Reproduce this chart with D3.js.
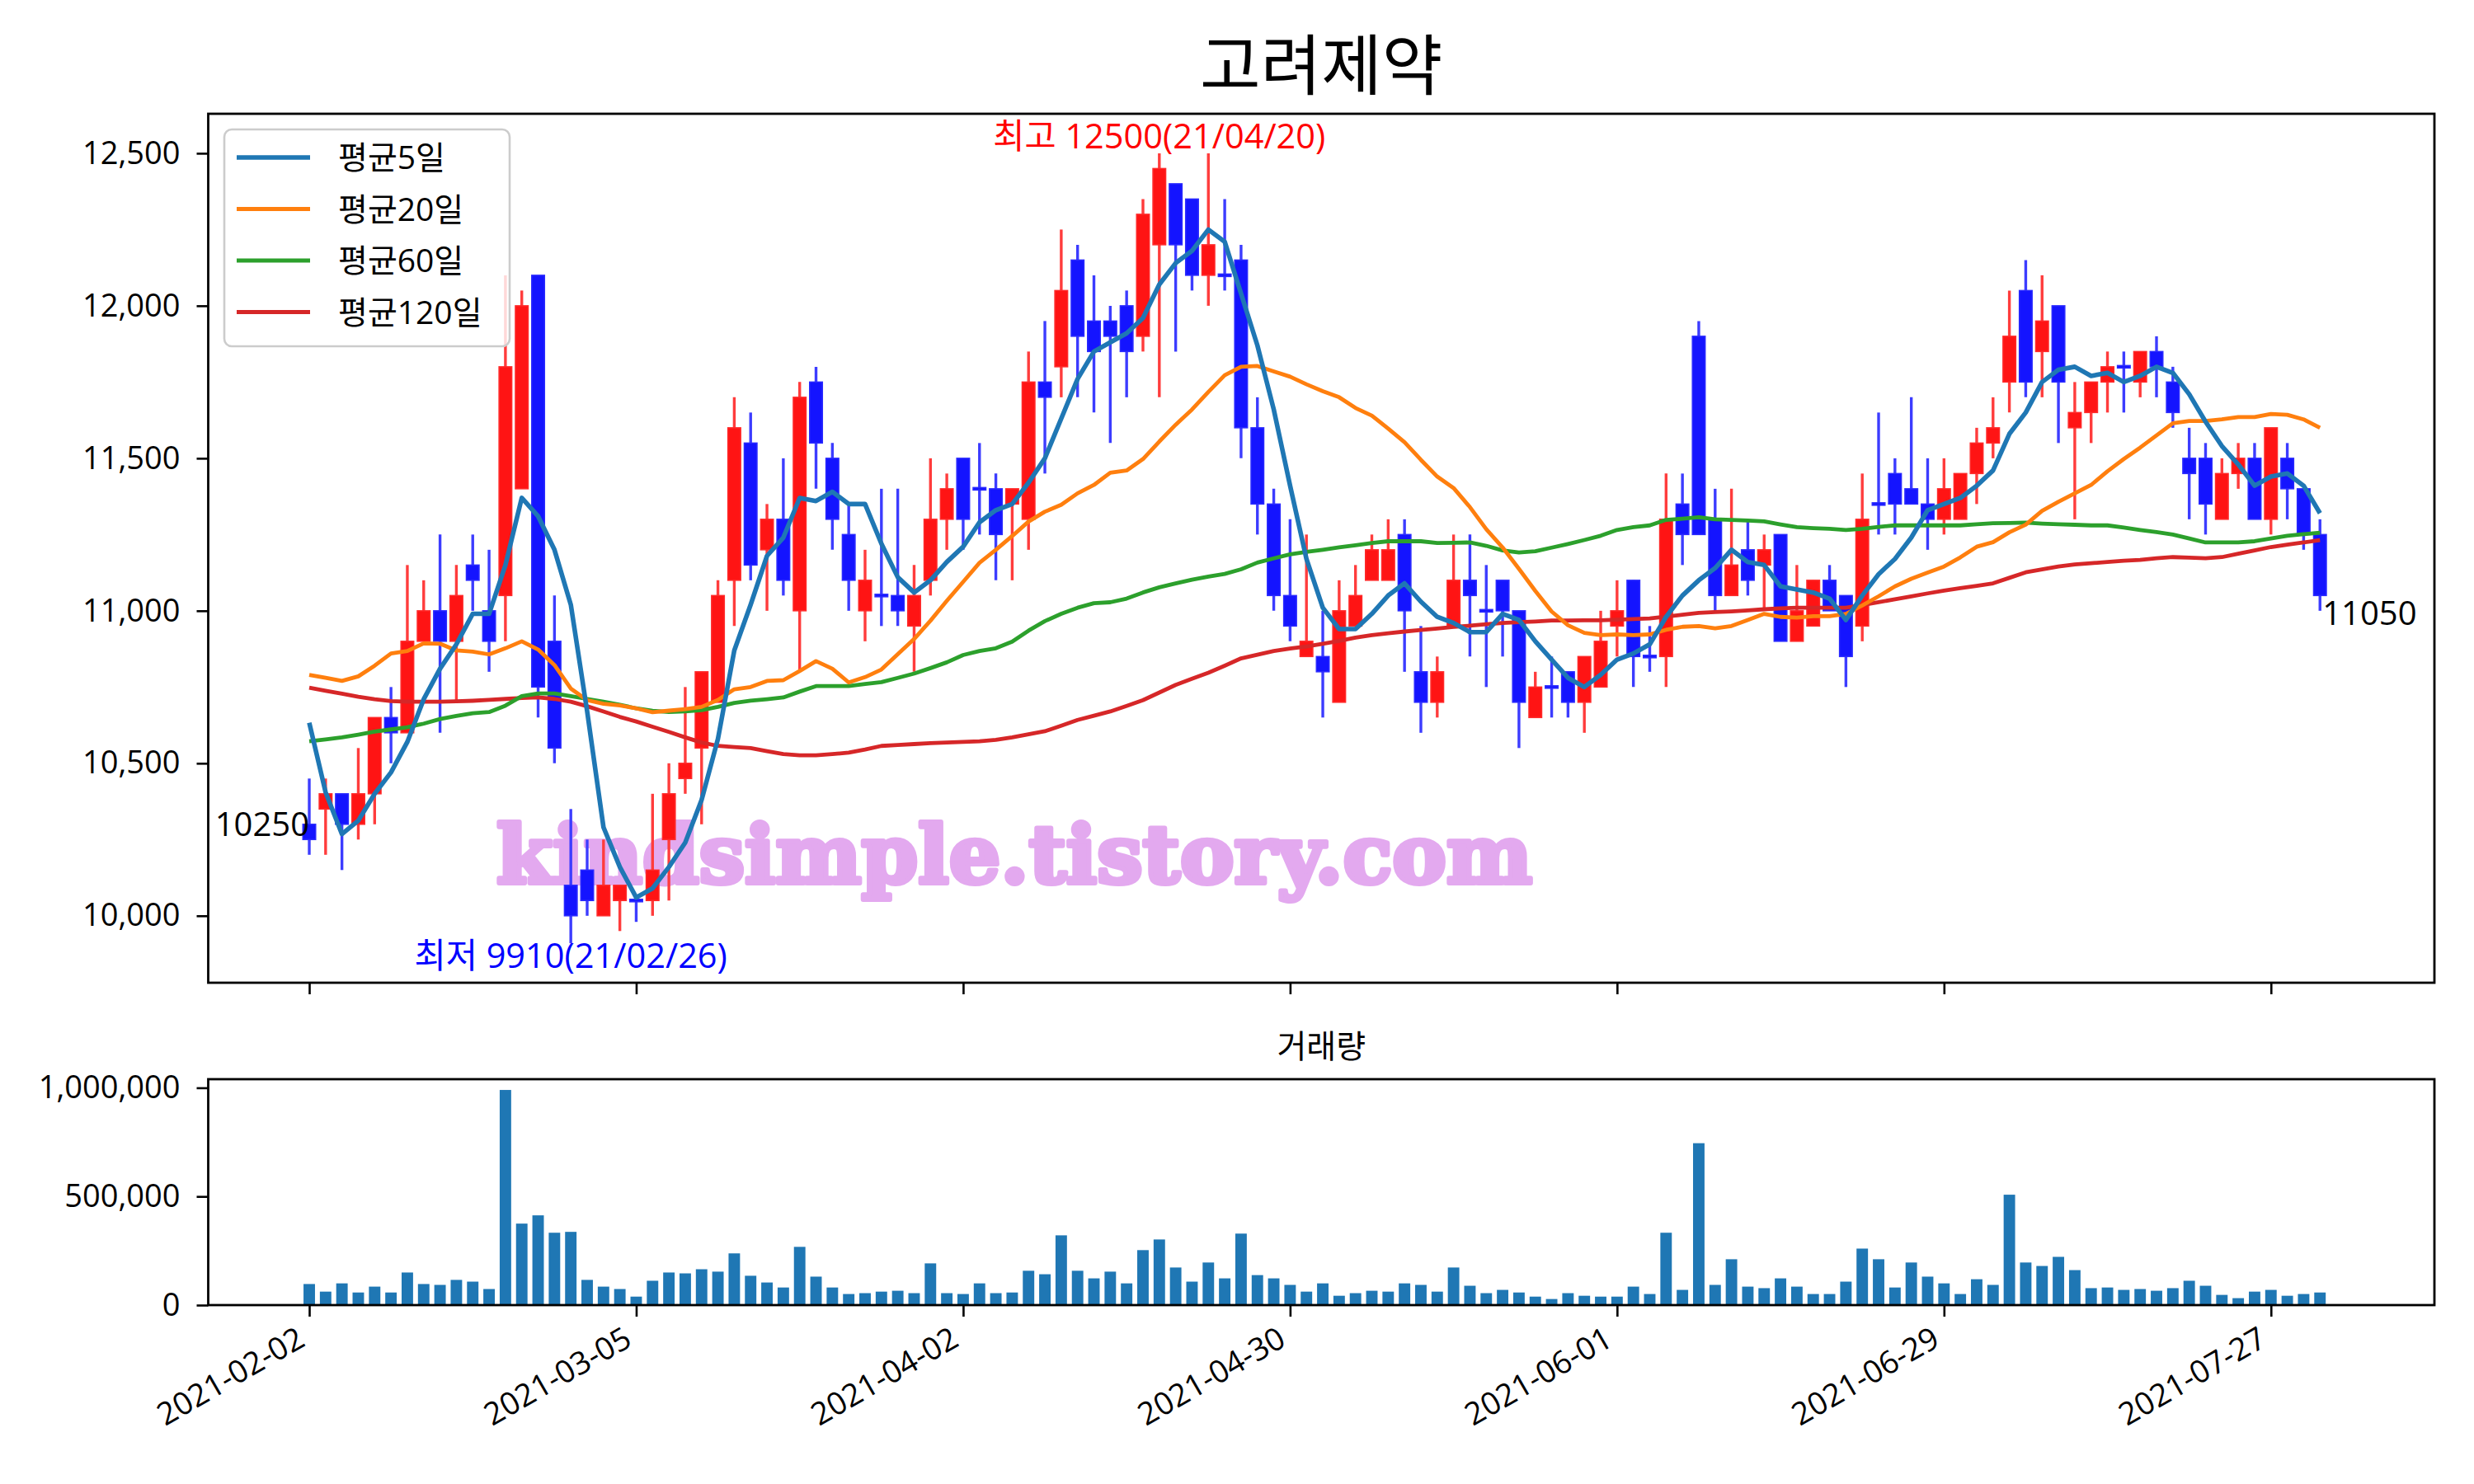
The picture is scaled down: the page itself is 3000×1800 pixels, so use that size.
<!DOCTYPE html>
<html><head><meta charset="utf-8">
<script src="https://cdn.jsdelivr.net/npm/d3@7"></script>
<style>
html,body{margin:0;padding:0;background:#fff;}
svg{display:block;}
</style></head><body>
<svg id="chart" width="3000" height="1800"></svg>
<script>
const chartTitle = "고려제약";
const volumeTitle = "거래량";
const watermark = "kindsimple.tistory.com";
const tickIndex = [0,20,40,60,80,100,120];
const tickLabels = ["2021-02-02","2021-03-05","2021-04-02","2021-04-30","2021-06-01","2021-06-29","2021-07-27"];
const priceTicks = [10000,10500,11000,11500,12000,12500];
const volumeTicks = [0,500000,1000000];
const highNote = "최고 12500(21/04/20)";
const lowNote = "최저 9910(21/02/26)";
const firstCloseLabel = "10250";
const lastCloseLabel = "11050";
const maNames = ["평균5일","평균20일","평균60일","평균120일"];
const maColors = ["#1f77b4","#ff7f0e","#2ca02c","#d62728"];

const opens = [10300,10350,10400,10300,10400,10650,10600,10900,11000,10900,
11150,11000,11050,11400,12100,10900,10100,10150,10000,10050,
10050,10050,10250,10450,10550,10700,11100,11550,11200,11300,
11000,11750,11500,11250,11000,11050,11050,10950,11100,11300,
11500,11400,11400,11350,11300,11750,11800,12150,11950,11950,
12000,11900,12200,12400,12350,12100,12100,12150,11600,11350,
11050,10850,10850,10700,10950,11100,11100,11250,10800,10700,
10950,11100,11000,11100,11000,10650,10750,10800,10700,10750,
10950,11100,10850,10850,11350,11900,11300,11050,11200,11150,
11250,10900,10950,11100,11050,10950,11350,11450,11400,11350,
11300,11300,11450,11550,11750,12050,11850,12000,11600,11650,
11750,11800,11750,11850,11750,11500,11500,11300,11450,11500,
11300,11500,11400,11250];
const highs = [10450,10450,10400,10550,10650,10750,11150,11100,11250,11150,
11250,11200,12100,12050,12100,11050,10350,10250,10250,10100,
10050,10400,10500,10750,10800,11100,11700,11650,11350,11500,
11750,11800,11550,11350,11200,11400,11400,11150,11500,11450,
11500,11550,11450,11400,11850,11950,12250,12200,12100,12000,
12050,12350,12500,12400,12350,12500,12350,12200,11700,11400,
11300,11250,11000,11100,11150,11250,11300,11300,10950,10850,
11250,11250,11150,11100,11000,10800,10850,10800,10850,11000,
11100,11100,10950,11450,11450,11950,11400,11400,11300,11250,
11250,11150,11100,11150,11050,11450,11650,11500,11700,11500,
11500,11450,11600,11700,12050,12150,12100,12000,11750,11750,
11850,11850,11850,11900,11800,11600,11550,11500,11550,11550,
11600,11550,11400,11300];
const lows = [10200,10200,10150,10250,10300,10500,10600,10900,10600,10700,
11000,10800,10900,11400,10650,10500,9910,10000,10000,9950,
9980,10000,10050,10400,10300,10700,10950,11100,11000,11050,
10800,11400,11200,11000,10900,10950,10950,10800,11050,11200,
11200,11250,11100,11100,11200,11450,11700,11700,11650,11550,
11700,11850,11700,11850,12050,12000,12050,11500,11250,11000,
10900,10850,10650,10700,10950,11100,11100,10800,10600,10650,
10950,10850,10750,10850,10550,10650,10650,10650,10600,10750,
10850,10750,10800,10750,11150,11250,11000,11050,11050,11000,
10900,10900,10950,11000,10750,10900,11250,11250,11350,11200,
11250,11300,11350,11500,11650,11700,11700,11550,11300,11550,
11650,11650,11700,11700,11600,11300,11250,11300,11400,11300,
11250,11300,11200,11000];
const closes = [10250,10400,10300,10400,10650,10600,10900,11000,10900,11050,
11100,10900,11800,12000,10750,10550,10000,10050,10100,10100,
10050,10150,10400,10500,10800,11050,11600,11150,11300,11100,
11700,11550,11300,11100,11100,11050,11000,11050,11300,11400,
11300,11400,11250,11400,11750,11700,12050,11900,11850,11900,
11850,12300,12450,12200,12100,12200,12100,11600,11350,11050,
10950,10900,10800,11000,11050,11200,11200,11000,10700,10800,
11100,11050,11000,11000,10700,10750,10750,10700,10850,10900,
11000,10850,10850,11300,11250,11250,11050,11150,11100,11200,
10900,11000,11100,11000,10850,11300,11350,11350,11350,11300,
11400,11450,11550,11600,11900,11750,11950,11750,11650,11750,
11800,11800,11850,11800,11650,11450,11350,11450,11500,11300,
11600,11400,11250,11050];
const volumes = [97000,62000,100000,58000,85000,58000,150000,97000,93000,116000,
108000,74000,990000,375000,413000,333000,337000,116000,85000,74000,
39000,112000,150000,146000,165000,154000,238000,135000,104000,81000,
268000,131000,81000,51000,55000,62000,66000,55000,192000,55000,
51000,100000,55000,58000,158000,142000,321000,158000,123000,154000,
100000,253000,302000,173000,108000,196000,123000,329000,138000,123000,
93000,62000,100000,43000,55000,66000,62000,100000,93000,62000,
173000,89000,55000,70000,58000,39000,28000,55000,43000,39000,
39000,85000,51000,333000,70000,745000,93000,211000,85000,78000,
123000,85000,51000,51000,108000,260000,211000,81000,196000,131000,
100000,51000,119000,93000,508000,196000,180000,222000,161000,78000,
81000,70000,74000,66000,78000,112000,89000,47000,32000,62000,
70000,43000,51000,58000];
const ma5 = [10633,10405,10268,10312,10400,10470,10570,10710,10810,10890,
10990,10990,11150,11370,11310,11200,11020,10670,10290,10160,
10060,10090,10160,10240,10380,10580,10870,11020,11180,11240,
11370,11360,11390,11350,11350,11220,11110,11060,11100,11160,
11210,11290,11330,11350,11420,11500,11630,11760,11850,11880,
11910,11960,12070,12140,12180,12250,12210,12040,11870,11660,
11410,11170,11010,10940,10940,10990,11050,11090,11030,10980,
10960,10930,10930,10990,10970,10900,10840,10780,10750,10790,
10840,10860,10890,10980,11050,11100,11140,11200,11160,11150,
11080,11070,11060,11040,10970,11050,11120,11170,11240,11330,
11350,11370,11410,11460,11580,11650,11750,11790,11800,11770,
11780,11750,11770,11800,11780,11710,11620,11540,11480,11410,
11440,11450,11410,11320];
const ma20 = [10790,10780,10770,10785,10820,10860,10868,10893,10892,10870,
10866,10857,10877,10900,10873,10822,10745,10707,10695,10690,
10680,10667.5,10672.5,10677.5,10685,10707.5,10742.5,10750,10770,10772.5,
10802.5,10835,10810,10765,10782.5,10807.5,10857.5,10907.5,10967.5,11032.5,
11095,11157.5,11200,11245,11292.5,11325,11347.5,11385,11412.5,11452.5,
11460,11497.5,11555,11610,11660,11717.5,11772.5,11800,11802.5,11785,
11767.5,11742.5,11720,11700,11665,11640,11597.5,11552.5,11495,11440,
11402.5,11340,11267.5,11207.5,11137.5,11065,10997.5,10952.5,10927.5,10920,
10922.5,10920,10922.5,10937.5,10947.5,10950,10942.5,10950,10970,10990,
10980,10977.5,10982.5,10982.5,10990,11017.5,11047.5,11080,11105,11125,
11145,11175,11210,11225,11257.5,11282.5,11327.5,11357.5,11385,11412.5,
11457.5,11497.5,11535,11575,11615,11622.5,11622.5,11627.5,11635,11635,
11645,11642.5,11627.5,11600];
const ma60 = [10572,10578,10585,10594,10604,10611,10618,10630,10645,10655,
10664,10668,10689,10720,10729,10729,10720,10711,10702,10692,
10680,10672,10668,10670,10674,10685,10698,10705,10710,10716,
10735,10753,10753,10753,10760,10766,10780,10794,10812,10831,
10855,10868,10877,10899,10935,10966,10990,11010,11025,11028,
11040,11060,11077,11090,11102,11112,11121,11136,11158,11172,
11185,11193,11200,11208,11215,11222,11228,11228,11228,11222,
11223,11224,11213,11198,11191,11195,11207,11219,11232,11246,
11265,11274,11280,11298,11302,11307,11300,11298,11296,11293,
11283,11274,11271,11269,11265,11269,11275,11280,11280,11280,
11280,11280,11284,11287,11288,11289,11286,11284,11282,11280,
11280,11273,11265,11258,11250,11237,11224,11224,11224,11228,
11237,11246,11251,11256];
const ma120 = [10748,10738,10728,10718,10710,10704,10702,10702,10702,10703,
10705,10708,10711,10714,10716,10711,10702,10687,10670,10652,
10637,10620,10603,10585,10568,10557,10553,10550,10540,10530,
10526,10526,10530,10535,10545,10557,10560,10563,10566,10568,
10570,10572,10577,10585,10595,10605,10623,10642,10656,10670,
10688,10707,10732,10757,10777,10797,10820,10844,10856,10868,
10876,10883,10892,10901,10912,10920,10926,10932,10937,10942,
10947,10951,10956,10960,10963,10965,10968,10968,10969,10969,
10971,10973,10975,10981,10987,10993,10996,10998,11001,11005,
11008,11010,11010,11010,11010,11019,11028,11038,11047,11057,
11066,11074,11082,11090,11108,11126,11136,11145,11152,11156,
11160,11164,11167,11172,11176,11174,11172,11176,11187,11198,
11209,11217,11224,11232];

// ---------- layout ----------
const FONT = "'Open Sans','Noto Sans CJK KR',sans-serif";
const main = {l:252.5, r:2952, t:138, b:1192};
const vol = {l:252.5, r:2952, t:1309, b:1583};
const n = closes.length;
const svg = d3.select("#chart");
svg.append("rect").attr("width",3000).attr("height",1800).attr("fill","#fff");

const x = d3.scaleLinear().domain([-6.18, 130]).range([main.l, main.r]);
const lo = d3.min(lows), hi = d3.max(highs), pad = (hi-lo)*0.05;
const y = d3.scaleLinear().domain([lo-pad, hi+pad]).range([main.b, main.t]);
const yv = d3.scaleLinear().domain([0, d3.max(volumes)*1.05]).range([vol.b, vol.t]);
const idx = d3.range(n);

// title
svg.append("text").attr("x",(main.l+main.r)/2).attr("y",108).attr("text-anchor","middle")
  .style("font-family",FONT).style("font-size","80px").attr("fill","#000").text(chartTitle);

// clip
const defs = svg.append("defs");
defs.append("clipPath").attr("id","clipMain").append("rect")
  .attr("x",main.l).attr("y",main.t).attr("width",main.r-main.l).attr("height",main.b-main.t);
const plot = svg.append("g").attr("clip-path","url(#clipMain)");

// watermark
plot.append("text").attr("x",602).attr("y",1071)
  .attr("textLength",1256).attr("lengthAdjust","spacingAndGlyphs")
  .style("font-family","'DejaVu Serif',serif").style("font-weight","bold").style("font-size","98px")
  .attr("fill","#e3a9ef").attr("stroke","#e3a9ef").attr("stroke-width",6).attr("stroke-linejoin","round")
  .text(watermark);

// candles
const up = i => closes[i] > opens[i];
const bodyW = 15.5;
const cg = plot.append("g");
cg.selectAll("line.wick").data(idx).join("line").attr("class","wick")
  .attr("x1",i=>x(i)).attr("x2",i=>x(i))
  .attr("y1",i=>y(highs[i])).attr("y2",i=>y(lows[i]))
  .attr("stroke",i=>up(i)?"#ff3c3c":"#3c3cff").attr("stroke-width",3.4);
cg.selectAll("rect.body").data(idx).join("rect").attr("class","body")
  .attr("x",i=>x(i)-bodyW/2).attr("width",bodyW)
  .attr("y",i=>{const a=y(Math.max(opens[i],closes[i])),b=y(Math.min(opens[i],closes[i]));return (b-a<3)?(a+b)/2-1.5:a;})
  .attr("height",i=>Math.max(3,Math.abs(y(opens[i])-y(closes[i]))))
  .attr("fill",i=>up(i)?"#ff1414":"#1414ff")
  .attr("stroke",i=>up(i)?"#ff2a2a":"#2a2aff").attr("stroke-width",1.5);

// moving averages
const mas = [ma5, ma20, ma60, ma120];
const maW = [5.6, 4.8, 4.8, 4.8];
const lineGen = arr => d3.line().x((d,i)=>x(i)).y(d=>y(d))(arr);
[3,2,1,0].forEach(k=>{
  plot.append("path").attr("d",lineGen(mas[k])).attr("fill","none")
    .attr("stroke",maColors[k]).attr("stroke-width",maW[k]).attr("stroke-linejoin","round");
});

// annotations
const hiIdx = highs.indexOf(hi), loIdx = lows.indexOf(lo);
svg.append("text").attr("x",x(hiIdx)).attr("y",y(hi)-6).attr("text-anchor","middle")
  .style("font-family",FONT).style("font-size","41.5px").attr("fill","#ff0000").text(highNote);
svg.append("text").attr("x",x(loIdx)).attr("y",y(lo)+30).attr("text-anchor","middle")
  .style("font-family",FONT).style("font-size","41.5px").attr("fill","#0000ff").text(lowNote);
svg.append("text").attr("x",x(0)).attr("y",y(closes[0])-4).attr("text-anchor","end")
  .style("font-family",FONT).style("font-size","40px").attr("fill","#000").text(firstCloseLabel);
svg.append("text").attr("x",x(n-1)+3).attr("y",y(closes[n-1])+36).attr("text-anchor","start")
  .style("font-family",FONT).style("font-size","40px").attr("fill","#000").text(lastCloseLabel);

// main axes
function styleAxis(g){
  g.select(".domain").remove();
  g.selectAll(".tick line").attr("stroke","#000").attr("stroke-width",2.6);
  g.selectAll(".tick text").style("font-family",FONT).style("font-size","38px").attr("fill","#000");
}
svg.append("g").attr("transform",`translate(${main.l},0)`)
  .call(d3.axisLeft(y).tickValues(priceTicks).tickSize(14).tickPadding(20).tickFormat(d3.format(",")))
  .call(styleAxis);
svg.append("g").attr("transform",`translate(0,${main.b})`)
  .call(d3.axisBottom(x).tickValues(tickIndex).tickSize(14).tickFormat(""))
  .call(styleAxis);
svg.append("rect").attr("x",main.l).attr("y",main.t).attr("width",main.r-main.l).attr("height",main.b-main.t)
  .attr("fill","none").attr("stroke","#000").attr("stroke-width",2.8);

// legend
const lg = svg.append("g");
lg.append("rect").attr("x",272).attr("y",157).attr("width",346).attr("height",263).attr("rx",9)
  .attr("fill","#fff").attr("fill-opacity",0.8).attr("stroke","#cccccc").attr("stroke-width",2.6);
maNames.forEach((nm,k)=>{
  const yy = 191 + k*62.5;
  lg.append("line").attr("x1",287).attr("x2",376).attr("y1",yy).attr("y2",yy)
    .attr("stroke",maColors[k]).attr("stroke-width",maW[k]);
  lg.append("text").attr("x",410).attr("y",yy).attr("dy","0.36em")
    .style("font-family",FONT).style("font-size","39px").attr("fill","#000").text(nm);
});

// volume panel
svg.append("text").attr("x",(vol.l+vol.r)/2).attr("y",1283).attr("text-anchor","middle")
  .style("font-family",FONT).style("font-size","39px").attr("fill","#000").text(volumeTitle);
const vBarW = 13.9;
svg.append("g").selectAll("rect").data(idx).join("rect")
  .attr("x",i=>x(i)-vBarW/2).attr("width",vBarW)
  .attr("y",i=>yv(volumes[i])).attr("height",i=>vol.b-yv(volumes[i]))
  .attr("fill","#1f77b4");
svg.append("g").attr("transform",`translate(${vol.l},0)`)
  .call(d3.axisLeft(yv).tickValues(volumeTicks).tickSize(14).tickPadding(20).tickFormat(d3.format(",")))
  .call(styleAxis);
const xa = svg.append("g").attr("transform",`translate(0,${vol.b})`)
  .call(d3.axisBottom(x).tickValues(tickIndex).tickSize(14).tickFormat((d,i)=>tickLabels[i]))
  .call(styleAxis);
xa.selectAll(".tick text").attr("y",0).attr("dy","0.76em").attr("text-anchor","end")
  .attr("transform","translate(-18,23) rotate(-30)");
svg.append("rect").attr("x",vol.l).attr("y",vol.t).attr("width",vol.r-vol.l).attr("height",vol.b-vol.t)
  .attr("fill","none").attr("stroke","#000").attr("stroke-width",2.8);
</script>
</body></html>
